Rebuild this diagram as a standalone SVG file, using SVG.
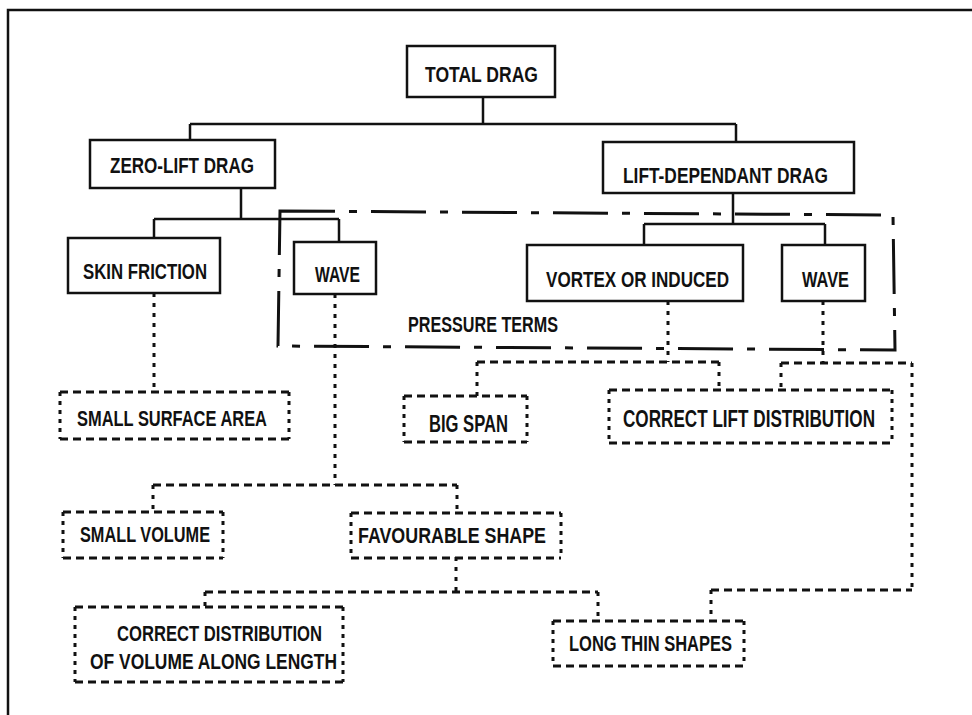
<svg xmlns="http://www.w3.org/2000/svg" width="972" height="715" viewBox="0 0 972 715">
<style>
  text { font-family: "Liberation Sans", Arial, sans-serif; font-weight: bold; font-size: 21.5px; fill: #111; }
  .solid { fill: none; stroke: #111; stroke-width: 2.5; }
  .conn { fill: none; stroke: #111; stroke-width: 2.5; }
  .dot { fill: none; stroke: #111; stroke-width: 3; stroke-dasharray: 4 6; }
  .dash { fill: none; stroke: #111; stroke-width: 3; stroke-dasharray: 8 5; }
  .dashv { fill: none; stroke: #111; stroke-width: 3; stroke-dasharray: 4 5; }
  .press { fill: none; stroke: #111; stroke-width: 3; stroke-dasharray: 55 14 8 14; }
  .frame { fill: none; stroke: #111; stroke-width: 2.5; }
  .big { font-size: 23px; }
</style>
<rect width="972" height="715" fill="#fff"/>
<path class="frame" d="M8 715 V10 H972"/>

<g id="pressure-terms">
  <path class="press" d="M280 211 L893 215 L895 350 L278 346 Z"/>
  <text x="408" y="332" textLength="150" lengthAdjust="spacingAndGlyphs">PRESSURE TERMS</text>
</g>

<g id="connectors">
  <path class="conn" d="M483 97 V124 M190 124 H736 M190 124 V140 M736 124 V142"/>
  <path class="conn" d="M241 188 V219 M154 219 H339 M154 219 V238 M339 219 V242"/>
  <path class="conn" d="M733 193 V224 M644 224 H825 M644 224 V245 M825 224 V245"/>
  <path class="dot" d="M154 293 V392 M335 294 V485 M668 301 V362 M823 301 V363 M477 362 V396 M719 362 V390 M781 363 V390 M912 363 V590 M153 485 V512 M457 485 V513 M456 557 V592 M205 592 V607 M598 592 V621 M711 590 V621"/>
  <path class="dash" d="M477 362 H719 M781 363 H912 M153 485 H457 M205 592 H598 M711 590 H912"/>
</g>

<g id="total-drag">
  <rect class="solid" x="407" y="46" width="148" height="51"/>
  <text x="425" y="82" textLength="113" lengthAdjust="spacingAndGlyphs">TOTAL DRAG</text>
</g>
<g id="zero-lift-drag">
  <rect class="solid" x="90" y="140" width="185" height="48"/>
  <text x="110" y="173" textLength="144" lengthAdjust="spacingAndGlyphs">ZERO-LIFT DRAG</text>
</g>
<g id="lift-dependant-drag">
  <rect class="solid" x="603" y="142" width="251" height="51"/>
  <text x="623" y="183" textLength="205" lengthAdjust="spacingAndGlyphs">LIFT-DEPENDANT DRAG</text>
</g>
<g id="skin-friction">
  <rect class="solid" x="68" y="238" width="152" height="55"/>
  <text x="83" y="279" textLength="124" lengthAdjust="spacingAndGlyphs">SKIN FRICTION</text>
</g>
<g id="wave-zero-lift">
  <rect class="solid" x="294" y="242" width="82" height="52"/>
  <text x="315" y="282" textLength="45" lengthAdjust="spacingAndGlyphs">WAVE</text>
</g>
<g id="vortex-or-induced">
  <rect class="solid" x="527" y="245" width="216" height="56"/>
  <text x="546" y="287" textLength="183" lengthAdjust="spacingAndGlyphs">VORTEX OR INDUCED</text>
</g>
<g id="wave-lift">
  <rect class="solid" x="782" y="245" width="83" height="56"/>
  <text x="802" y="287" textLength="47" lengthAdjust="spacingAndGlyphs">WAVE</text>
</g>

<g id="small-surface-area">
  <path class="dash" d="M60 392 H289 M60 439 H289"/>
  <path class="dashv" d="M60 392 V439 M289 392 V439"/>
  <text x="77" y="426" textLength="190" lengthAdjust="spacingAndGlyphs">SMALL SURFACE AREA</text>
</g>
<g id="big-span">
  <path class="dash" d="M404 396 H527 M404 442 H527"/>
  <path class="dashv" d="M404 396 V442 M527 396 V442"/>
  <text class="big" x="429" y="432" textLength="79" lengthAdjust="spacingAndGlyphs">BIG SPAN</text>
</g>
<g id="correct-lift-distribution">
  <path class="dash" d="M609 390 H892 M609 443 H892"/>
  <path class="dashv" d="M609 390 V443 M892 390 V443"/>
  <text class="big" x="623" y="427" textLength="252" lengthAdjust="spacingAndGlyphs">CORRECT LIFT DISTRIBUTION</text>
</g>
<g id="small-volume">
  <path class="dash" d="M63 512 H223 M63 558 H223"/>
  <path class="dashv" d="M63 512 V558 M223 512 V558"/>
  <text x="80" y="542" textLength="130" lengthAdjust="spacingAndGlyphs">SMALL VOLUME</text>
</g>
<g id="favourable-shape">
  <path class="dash" d="M351 513 H561 M351 558 H561"/>
  <path class="dashv" d="M351 513 V558 M561 513 V558"/>
  <text x="358" y="543" textLength="188" lengthAdjust="spacingAndGlyphs">FAVOURABLE SHAPE</text>
</g>
<g id="correct-distribution">
  <path class="dash" d="M75 607 H343 M75 682 H343"/>
  <path class="dashv" d="M75 607 V682 M343 607 V682"/>
  <text x="117" y="641" textLength="205" lengthAdjust="spacingAndGlyphs">CORRECT DISTRIBUTION</text>
  <text x="90" y="669" textLength="247" lengthAdjust="spacingAndGlyphs">OF VOLUME ALONG LENGTH</text>
</g>
<g id="long-thin-shapes">
  <path class="dash" d="M553 621 H744 M553 666 H744"/>
  <path class="dashv" d="M553 621 V666 M744 621 V666"/>
  <text x="569" y="651" textLength="163" lengthAdjust="spacingAndGlyphs">LONG THIN SHAPES</text>
</g>
</svg>
